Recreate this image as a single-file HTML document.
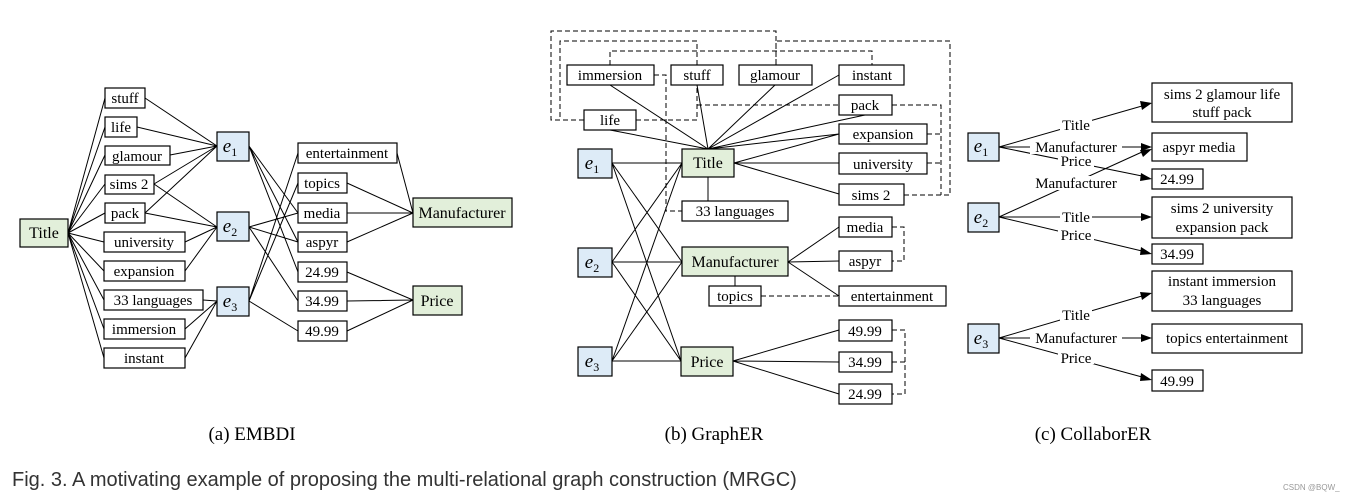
<!DOCTYPE html>
<html><head><meta charset="utf-8"><style>
body{margin:0;background:#fff;}
svg{display:block;}
text{font-family:"Liberation Serif",serif;fill:#000;}
.s{font-family:"Liberation Sans",sans-serif;}
</style></head><body>
<svg width="1360" height="501" viewBox="0 0 1360 501" xmlns="http://www.w3.org/2000/svg" font-size="15">
<g stroke="#000" stroke-width="1" fill="none">
<path d="M68,233L105,98M68,233L105,127M68,233L105,155M68,233L105,184M68,233L105,213M68,233L104,242M68,233L104,271M68,233L104,300M68,233L104,329M68,233L104,358"/>
<path d="M145,98L217,146M137,127L217,146M170,155L217,146M154,184L217,146M145,213L217,146"/>
<path d="M154,184L217,227M145,213L217,227M185,242L217,227M185,271L217,227"/>
<path d="M203,300L217,301M185,329L217,301M185,358L217,301"/>
<path d="M249,146L298,213M249,146L298,242M249,146L298,272M249,227L298,213M249,227L298,242M249,227L298,301M249,301L298,153M249,301L298,183M249,301L298,331"/>
<path d="M397,153L413,213M347,183L413,213M347,213L413,213M347,242L413,213M347,272L413,300M347,301L413,300M347,331L413,300"/>
<path d="M610,85L708,149M697,85L708,149M775,85L708,149M839,75L708,149M865,115L708,149M610,130L708,149M839,134L708,149M734,163L839,134M734,163L839,163M734,163L839,194M708,177V201"/>
<path d="M612,163L682,163M612,163L682,262M612,163L681,361M612,262L682,163M612,262L682,262M612,262L681,361M612,361L682,163M612,361L682,262M612,361L681,361"/>
<path d="M788,262L839,227M788,262L839,261M788,262L839,296M735,276V286M733,361L839,330M733,361L839,362M733,361L839,394"/>
</g>
<g stroke="#000" stroke-width="1" fill="none" stroke-dasharray="5,3">
<path d="M892,105H941V195M927,134H941M927,163H941M904,195H950V41H776V65"/>
<path d="M776,65V31H551V120H584"/>
<path d="M697,65V41H560V120"/>
<path d="M636,120H697V85M697,105H839"/>
<path d="M610,65V51H872V65"/>
<path d="M654,75H666V211H682"/>
<path d="M892,227H904V261H892M761,296H839M892,330H905V394H892M892,362H905"/>
</g>
<g stroke="#000" stroke-width="1" fill="none">
<path d="M999,147L1142,106M999,147L1142,147M999,147L1142,176M999,217L1142,152M999,217L1142,217M999,217L1142,251M999,338L1142,296M999,338L1142,338M999,338L1142,377"/>
</g>
<g fill="#000">
<polygon points="1152,103 1140,101 1142,110"/>
<polygon points="1152,147 1141,143 1141,151"/>
<polygon points="1152,179 1141,173 1140,181"/>
<polygon points="1152,149 1140,150 1143,157"/>
<polygon points="1152,217 1141,213 1141,221"/>
<polygon points="1152,254 1141,247 1140,255"/>
<polygon points="1152,293 1140,292 1142,300"/>
<polygon points="1152,338 1141,334 1141,342"/>
<polygon points="1152,380 1141,373 1140,381"/>
</g>
<g font-size="15">
<rect x="1060" y="117" width="32" height="14" fill="#fff"/><text x="1076" y="130" text-anchor="middle">Title</text>
<rect x="1030" y="140" width="92" height="14" fill="#fff"/><text x="1076" y="152" text-anchor="middle">Manufacturer</text>
<rect x="1058" y="155" width="36" height="12" fill="#fff"/><text x="1076" y="166" text-anchor="middle">Price</text>
<rect x="1030" y="176" width="92" height="14" fill="#fff"/><text x="1076" y="188" text-anchor="middle">Manufacturer</text>
<rect x="1060" y="210" width="32" height="14" fill="#fff"/><text x="1076" y="222" text-anchor="middle">Title</text>
<rect x="1058" y="229" width="36" height="12" fill="#fff"/><text x="1076" y="240" text-anchor="middle">Price</text>
<rect x="1060" y="308" width="32" height="14" fill="#fff"/><text x="1076" y="320" text-anchor="middle">Title</text>
<rect x="1030" y="331" width="92" height="14" fill="#fff"/><text x="1076" y="343" text-anchor="middle">Manufacturer</text>
<rect x="1058" y="352" width="36" height="12" fill="#fff"/><text x="1076" y="363" text-anchor="middle">Price</text>
</g>
<g stroke="#000" stroke-width="1.2">
<g fill="#fff">
<rect x="105" y="88" width="40" height="20"/><rect x="105" y="117" width="32" height="20"/><rect x="105" y="146" width="65" height="19"/><rect x="105" y="175" width="49" height="19"/><rect x="105" y="203" width="40" height="20"/><rect x="104" y="232" width="81" height="20"/><rect x="104" y="261" width="81" height="20"/><rect x="104" y="290" width="99" height="20"/><rect x="104" y="319" width="81" height="20"/><rect x="104" y="348" width="81" height="20"/>
<rect x="298" y="143" width="99" height="20"/><rect x="298" y="173" width="49" height="20"/><rect x="298" y="203" width="49" height="20"/><rect x="298" y="232" width="49" height="20"/><rect x="298" y="262" width="49" height="20"/><rect x="298" y="291" width="49" height="20"/><rect x="298" y="321" width="49" height="20"/>
<rect x="567" y="65" width="87" height="20"/><rect x="671" y="65" width="52" height="20"/><rect x="739" y="65" width="73" height="20"/><rect x="839" y="65" width="65" height="20"/><rect x="584" y="110" width="52" height="20"/><rect x="839" y="95" width="53" height="20"/><rect x="839" y="124" width="88" height="20"/><rect x="839" y="153" width="88" height="21"/><rect x="839" y="184" width="65" height="21"/><rect x="682" y="201" width="106" height="20"/><rect x="709" y="286" width="52" height="20"/><rect x="839" y="217" width="53" height="20"/><rect x="839" y="251" width="53" height="20"/><rect x="839" y="286" width="107" height="20"/><rect x="839" y="320" width="53" height="21"/><rect x="839" y="352" width="53" height="20"/><rect x="839" y="384" width="53" height="20"/>
<rect x="1152" y="83" width="140" height="39"/><rect x="1152" y="133" width="95" height="28"/><rect x="1152" y="169" width="51" height="20"/><rect x="1152" y="197" width="140" height="41"/><rect x="1152" y="244" width="51" height="20"/><rect x="1152" y="271" width="140" height="40"/><rect x="1152" y="324" width="150" height="29"/><rect x="1152" y="370" width="51" height="21"/>
</g>
<g fill="#e2efda">
<rect x="20" y="219" width="48" height="28"/><rect x="413" y="198" width="99" height="29"/><rect x="413" y="286" width="49" height="29"/>
<rect x="682" y="149" width="52" height="28"/><rect x="682" y="247" width="106" height="29"/><rect x="681" y="347" width="52" height="29"/>
</g>
<g fill="#ddebf7">
<rect x="217" y="132" width="32" height="29"/><rect x="217" y="212" width="32" height="29"/><rect x="217" y="287" width="32" height="29"/>
<rect x="578" y="149" width="34" height="29"/><rect x="578" y="248" width="34" height="29"/><rect x="578" y="347" width="34" height="29"/>
<rect x="968" y="133" width="31" height="28"/><rect x="968" y="203" width="31" height="29"/><rect x="968" y="324" width="31" height="29"/>
</g>
</g>
<g text-anchor="middle" font-size="15">
<text x="125" y="103">stuff</text><text x="121" y="132">life</text><text x="137" y="161">glamour</text><text x="129" y="189">sims 2</text><text x="125" y="218">pack</text><text x="144" y="247">university</text><text x="144" y="276">expansion</text><text x="153" y="305">33 languages</text><text x="144" y="334">immersion</text><text x="144" y="363">instant</text>
<text x="347" y="158">entertainment</text><text x="322" y="188">topics</text><text x="322" y="218">media</text><text x="322" y="247">aspyr</text><text x="322" y="277">24.99</text><text x="322" y="306">34.99</text><text x="322" y="336">49.99</text>
<text x="44" y="238" font-size="16">Title</text><text x="462" y="218" font-size="16">Manufacturer</text><text x="437" y="306" font-size="16">Price</text>
<text x="610" y="80">immersion</text><text x="697" y="80">stuff</text><text x="775" y="80">glamour</text><text x="872" y="80">instant</text><text x="610" y="125">life</text><text x="865" y="110">pack</text><text x="883" y="139">expansion</text><text x="883" y="169">university</text><text x="871" y="200">sims 2</text><text x="735" y="216">33 languages</text><text x="735" y="301">topics</text><text x="865" y="232">media</text><text x="865" y="266">aspyr</text><text x="892" y="301">entertainment</text><text x="865" y="336">49.99</text><text x="865" y="367">34.99</text><text x="865" y="399">24.99</text>
<text x="708" y="168" font-size="16">Title</text><text x="735" y="267" font-size="16">Manufacturer</text><text x="707" y="367" font-size="16">Price</text>
<text x="1222" y="99">sims 2 glamour life</text><text x="1222" y="117">stuff pack</text><text x="1199" y="152">aspyr media</text><text x="1177" y="184">24.99</text><text x="1222" y="213">sims 2 university</text><text x="1222" y="232">expansion pack</text><text x="1177" y="259">34.99</text><text x="1222" y="286">instant immersion</text><text x="1222" y="305">33 languages</text><text x="1227" y="343">topics entertainment</text><text x="1177" y="386">49.99</text>
</g>
<g font-size="19" font-style="italic" text-anchor="middle">
<text x="230" y="152">e<tspan font-size="12" font-style="normal" dy="4">1</tspan></text>
<text x="230" y="232">e<tspan font-size="12" font-style="normal" dy="4">2</tspan></text>
<text x="230" y="307">e<tspan font-size="12" font-style="normal" dy="4">3</tspan></text>
<text x="592" y="169">e<tspan font-size="12" font-style="normal" dy="4">1</tspan></text>
<text x="592" y="268">e<tspan font-size="12" font-style="normal" dy="4">2</tspan></text>
<text x="592" y="367">e<tspan font-size="12" font-style="normal" dy="4">3</tspan></text>
<text x="981" y="152">e<tspan font-size="12" font-style="normal" dy="4">1</tspan></text>
<text x="981" y="223">e<tspan font-size="12" font-style="normal" dy="4">2</tspan></text>
<text x="981" y="344">e<tspan font-size="12" font-style="normal" dy="4">3</tspan></text>
</g>
<g font-size="19" text-anchor="middle">
<text x="252" y="440">(a) EMBDI</text><text x="714" y="440">(b) GraphER</text><text x="1093" y="440">(c) CollaborER</text>
</g>
<text class="s" x="12" y="486" font-size="20" style="fill:#333">Fig. 3. A motivating example of proposing the multi-relational graph construction (MRGC)</text>
<text class="s" x="1283" y="490" font-size="8" style="fill:#999">CSDN @BQW_</text>
</svg>
</body></html>
